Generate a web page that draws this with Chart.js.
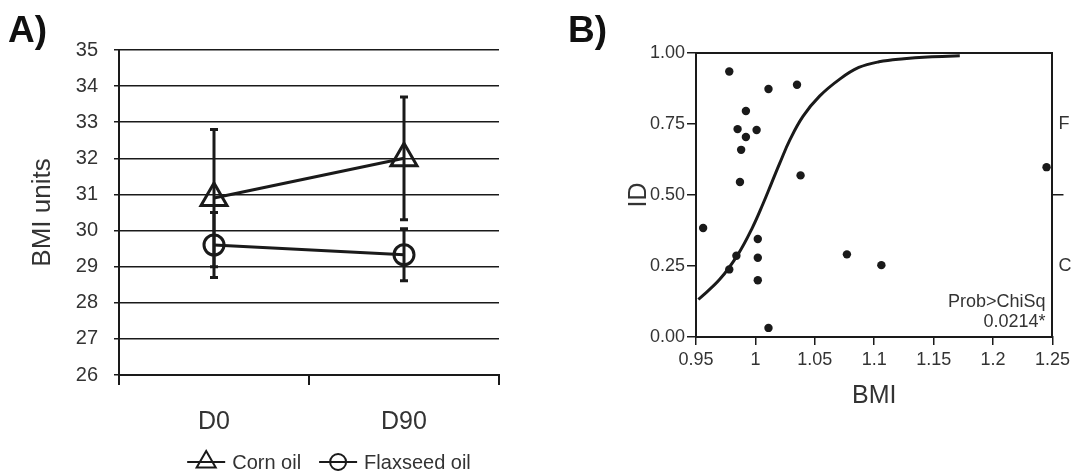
<!DOCTYPE html>
<html>
<head>
<meta charset="utf-8">
<script src="https://cdn.jsdelivr.net/npm/chart.js@4.4.1/dist/chart.umd.min.js"></script>
<style>
  html, body { margin: 0; padding: 0; background: #fff; }
  #wrap { position: relative; width: 1074px; height: 473px; overflow: hidden; }
  #boxA { position: absolute; left: 0; top: 0; width: 540px; height: 473px; }
  #boxB { position: absolute; left: 560px; top: 0; width: 514px; height: 473px; }
</style>
</head>
<body>
<div id="wrap">
  <div id="boxA"><canvas id="chartA"></canvas></div>
  <div id="boxB"><canvas id="chartB"></canvas></div>
</div>
<script>
// panel A: mean BMI with error bars
const days = ["D0", "D90"];
const cornMean = [30.9, 32.0];
const cornErr = [1.9, 1.7];
const flaxMean = [29.6, 29.33];
const flaxErr = [0.9, 0.72];

// panel B: ID vs BMI ratio, with the logistic fit
const bmiRatio = [0.978, 1.011, 1.035, 0.992, 0.985, 1.001, 0.992, 0.988, 0.987, 1.038,
                  1.245, 0.956, 1.002, 0.984, 1.002, 0.978, 1.002, 1.077, 1.106, 1.011];
const idValue = [0.935, 0.873, 0.888, 0.796, 0.732, 0.729, 0.704, 0.659, 0.546, 0.569,
                 0.598, 0.384, 0.345, 0.286, 0.279, 0.238, 0.200, 0.291, 0.253, 0.032];
const fitBmi = [0.952, 0.970, 0.9855, 0.997, 1.0065, 1.0135, 1.0205, 1.029, 1.040, 1.054,
                1.071, 1.087, 1.104, 1.125, 1.145, 1.172];
const fitId = [0.132, 0.203, 0.292, 0.381, 0.470, 0.541, 0.612, 0.694, 0.777, 0.848,
               0.908, 0.949, 0.969, 0.980, 0.986, 0.990];
const ratioTicks = [0.95, 1, 1.05, 1.1, 1.15, 1.2, 1.25];
const idTicks = [0, 0.25, 0.5, 0.75, 1];
const groupTicks = [0.25, 0.5, 0.75];
const groupLabels = ["C", "", "F"];
const testLines = ["Prob>ChiSq", "0.0214*"];

const INK = "#1a1a1a";
const TEXT = "#333";
const FONT = "'Liberation Sans', Arial, sans-serif";
Chart.defaults.font.family = FONT;
Chart.defaults.color = TEXT;

function drawMarker(ctx, style, x, y, r) {
    ctx.beginPath();
    if (style === "triangle") {
        ctx.moveTo(x, y - r);
        ctx.lineTo(x + r * 0.866, y + r * 0.5);
        ctx.lineTo(x - r * 0.866, y + r * 0.5);
        ctx.closePath();
    } else {
        ctx.arc(x, y, r, 0, Math.PI * 2);
    }
    ctx.stroke();
}

function panelLetter(text) {
    return {
        id: "panelLetter",
        afterDraw(chart) {
            const ctx = chart.ctx;
            ctx.save();
            ctx.font = "bold 37px " + FONT;
            ctx.fillStyle = "#111";
            ctx.fillText(text, 8, 42);
            ctx.restore();
        }
    };
}

const errorBars = {
    id: "errorBars",
    afterDatasetsDraw(chart) {
        const ctx = chart.ctx;
        const y = chart.scales.y;
        ctx.save();
        ctx.strokeStyle = INK;
        ctx.lineWidth = 3;
        chart.data.datasets.forEach((ds, i) => {
            chart.getDatasetMeta(i).data.forEach((pt, j) => {
                const top = y.getPixelForValue(ds.data[j] + ds.errors[j]);
                const bot = y.getPixelForValue(ds.data[j] - ds.errors[j]);
                ctx.beginPath();
                ctx.moveTo(pt.x, top); ctx.lineTo(pt.x, bot);
                ctx.moveTo(pt.x - 4, top); ctx.lineTo(pt.x + 4, top);
                ctx.moveTo(pt.x - 4, bot); ctx.lineTo(pt.x + 4, bot);
                ctx.stroke();
            });
        });
        ctx.restore();
    }
};

// legend with the line running through the marker, as in the figure
const lineLegend = {
    id: "lineLegend",
    afterDraw(chart) {
        const ctx = chart.ctx;
        const y = 462;
        const sym = 38, gap = 7, between = 18;
        ctx.save();
        ctx.font = "20px " + FONT;
        const items = chart.data.datasets.map(ds => ({ ds, w: ctx.measureText(ds.label).width }));
        const total = items.reduce((s, it) => s + sym + gap + it.w, 0) + between * (items.length - 1);
        let x = 329 - total / 2;
        items.forEach(it => {
            ctx.strokeStyle = INK;
            ctx.lineWidth = 2;
            ctx.beginPath();
            ctx.moveTo(x, y); ctx.lineTo(x + sym, y);
            ctx.stroke();
            drawMarker(ctx, it.ds.pointStyle, x + sym / 2, y, it.ds.pointStyle === "triangle" ? 11 : 8);
            ctx.fillStyle = TEXT;
            ctx.textBaseline = "middle";
            ctx.fillText(it.ds.label, x + sym + gap, y + 1);
            x += sym + gap + it.w + between;
        });
        ctx.restore();
    }
};

new Chart(document.getElementById("chartA"), {
    type: "line",
    data: {
        labels: days,
        datasets: [
            {
                label: "Corn oil", data: cornMean, errors: cornErr,
                borderColor: INK, borderWidth: 3, tension: 0,
                pointStyle: "triangle", pointRadius: 15, pointBorderWidth: 3,
                pointBorderColor: INK, pointBackgroundColor: "rgba(0,0,0,0)"
            },
            {
                label: "Flaxseed oil", data: flaxMean, errors: flaxErr,
                borderColor: INK, borderWidth: 3, tension: 0,
                pointStyle: "circle", pointRadius: 10, pointBorderWidth: 3,
                pointBorderColor: INK, pointBackgroundColor: "rgba(0,0,0,0)"
            }
        ]
    },
    options: {
        responsive: true,
        maintainAspectRatio: false,
        animation: false,
        layout: { padding: { left: 23, top: 50, right: 41, bottom: 0 } },
        plugins: { legend: { display: false }, tooltip: { enabled: false } },
        scales: {
            x: {
                offset: true,
                grid: { offset: true, drawOnChartArea: false, color: INK, lineWidth: 2, tickLength: 10 },
                border: { color: INK, width: 2 },
                ticks: { font: { size: 25 }, color: TEXT, padding: 22 },
                afterFit: s => { s.height = 98; }
            },
            y: {
                min: 26, max: 35,
                ticks: { stepSize: 1, font: { size: 20 }, color: TEXT, padding: 16 },
                grid: { color: INK, lineWidth: 1.5, tickLength: 5 },
                border: { color: INK, width: 2 },
                title: { display: true, text: "BMI units", font: { size: 26 }, color: TEXT, padding: { top: 4, bottom: 4 } },
                afterFit: s => { s.width = 96; }
            }
        }
    },
    plugins: [errorBars, lineLegend, panelLetter("A)")]
});

const boxTop = {
    id: "boxTop",
    afterDraw(chart) {
        const { ctx, chartArea } = chart;
        ctx.save();
        ctx.strokeStyle = INK;
        ctx.lineWidth = 2;
        ctx.beginPath();
        ctx.moveTo(chartArea.left, chartArea.top);
        ctx.lineTo(chartArea.right, chartArea.top);
        ctx.stroke();
        ctx.font = "18px " + FONT;
        ctx.fillStyle = TEXT;
        ctx.textAlign = "right";
        ctx.textBaseline = "middle";
        testLines.forEach((t, i) => ctx.fillText(t, chartArea.right - 7, 302 + i * 20));
        ctx.restore();
    }
};

new Chart(document.getElementById("chartB"), {
    type: "scatter",
    data: {
        datasets: [
            {
                label: "Logistic fit",
                data: fitBmi.map((x, i) => ({ x, y: fitId[i] })),
                showLine: true, borderColor: INK, borderWidth: 3,
                pointRadius: 0, tension: 0.4
            },
            {
                label: "Subjects",
                data: bmiRatio.map((x, i) => ({ x, y: idValue[i] })),
                pointRadius: 4.2, backgroundColor: INK, borderColor: INK, borderWidth: 0
            }
        ]
    },
    options: {
        responsive: true,
        maintainAspectRatio: false,
        animation: false,
        layout: { padding: { left: 60, top: 53, right: 0, bottom: 58 } },
        plugins: { legend: { display: false }, tooltip: { enabled: false } },
        scales: {
            x: {
                type: "linear", min: 0.95, max: 1.25,
                afterBuildTicks: s => { s.ticks = ratioTicks.map(v => ({ value: v })); },
                ticks: { callback: v => String(v), font: { size: 18 }, color: TEXT, padding: 4, maxRotation: 0, autoSkip: false },
                grid: { drawOnChartArea: false, color: INK, lineWidth: 1.5, tickLength: 8 },
                border: { color: INK, width: 2 },
                title: { display: true, text: "BMI", font: { size: 25 }, color: TEXT, padding: { top: 4, bottom: 4 } },
                afterFit: s => { s.height = 78; }
            },
            y: {
                min: 0, max: 1,
                afterBuildTicks: s => { s.ticks = idTicks.map(v => ({ value: v })); },
                ticks: { callback: v => v.toFixed(2), font: { size: 18 }, color: TEXT, padding: 2 },
                grid: { drawOnChartArea: false, color: INK, lineWidth: 1.5, tickLength: 9 },
                border: { color: INK, width: 2 },
                title: { display: true, text: "ID", font: { size: 25 }, color: TEXT, padding: { top: 4, bottom: 4 } },
                afterFit: s => { s.width = 76; }
            },
            y2: {
                position: "right", min: 0, max: 1,
                afterBuildTicks: s => { s.ticks = groupTicks.map(v => ({ value: v })); },
                ticks: { callback: (v, i) => groupLabels[i], font: { size: 18 }, color: TEXT, padding: -5 },
                grid: {
                    drawOnChartArea: false, lineWidth: 1.5, tickLength: 11,
                    tickColor: c => (c.tick && c.tick.value === 0.5 ? INK : "rgba(0,0,0,0)")
                },
                border: { color: INK, width: 2 },
                afterFit: s => { s.width = 20; }
            }
        }
    },
    plugins: [boxTop, panelLetter("B)")]
});
</script>
</body>
</html>
